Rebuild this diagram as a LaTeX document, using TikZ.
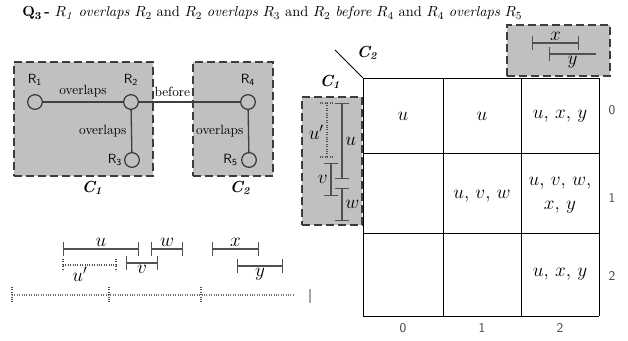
\documentclass[tikz,border=0pt]{standalone}
\usepackage{amsmath,amssymb}
\usepackage{tikz}
\usetikzlibrary{arrows.meta, positioning, fit}

\definecolor{boxgray}{RGB}{192,192,192}
\definecolor{edgegray}{RGB}{60,60,60}
\definecolor{ivgray}{RGB}{80,80,80}

\newcommand{\Cname}[1]{{\large\bfseries\itshape C\textsubscript{#1}}}
\newcommand{\Rname}[1]{{\sffamily R$_{\mathsf{#1}}$}}

\begin{document}
\begin{tikzpicture}[
  x=0.75pt, y=-0.75pt,
  cbox/.style={draw=edgegray, fill=boxgray, line width=1.5pt,
               dash pattern=on 6pt off 3pt, inner sep=0pt},
  rel/.style={circle, draw=black!80, line width=0.9pt, minimum size=11pt, inner sep=0pt},
  rlbl/.style={font=\sffamily},
  link/.style={draw=black!75, line width=1pt},
  ival/.style={{Bar[width=10pt]}-{Bar[width=10pt]}, draw=ivgray, line width=1pt},
  dival/.style={draw=ivgray, line width=0.8pt, densely dotted},
  ilbl/.style={font=\Large},
  cell/.style={font=\Large},
  idx/.style={font=\sffamily, text=black!75},
  gridline/.style={draw=black, line width=0.6pt}
]
  \useasboundingbox (0,0) rectangle (628,341);

  % title
  \node[anchor=base west, inner sep=0pt, font=\fontsize{10.8}{13}\selectfont] (title) at (22,17)
    {$\mathbf{Q_3}$\,\textbf{-} $R_{\mathit{1}}$ \textit{overlaps} $R_2$ and $R_2$ \textit{overlaps} $R_3$
     and $R_2$ \textit{before} $R_4$ and $R_4$ \textit{overlaps} $R_5$};

  % constraint graph
  \node[cbox, fit={(14,62) (153,176)}] (boxA) {};
  \node[cbox, fit={(193,62) (273,176)}] (boxB) {};
  \node at (92,188) (nameA) {\Cname{1}};
  \node at (240,188) (nameB) {\Cname{2}};

  \node[rel, label={[rlbl, label distance=3pt]above:\Rname{1}}] (r1) at (35,102) {};
  \node[rel, label={[rlbl, label distance=3pt]above:\Rname{2}}] (r2) at (131,102) {};
  \node[rel, label={[rlbl, label distance=-2pt]left:\Rname{3}}] (r3) at (132,160) {};
  \node[rel, label={[rlbl, label distance=3pt]above:\Rname{4}}] (r4) at (248,102) {};
  \node[rel, label={[rlbl, label distance=-1pt]left:\Rname{5}}] (r5) at (249,160) {};

  \draw[link] (r1) -- node[above] {overlaps} (r2);
  \draw[link] (r2) -- node[left] {overlaps} (r3);
  \draw[link] (r2) -- node[pos=0.33, above] {before} (r4);
  \draw[link] (r4) -- node[left] {overlaps} (r5);

  % intervals on the line
  \draw[ival] (63,249) -- node[ilbl, above, inner sep=1pt] {$u$} (139,249);
  \draw[ival] (151,249) -- node[ilbl, above, inner sep=1pt] {$w$} (183,249);
  \draw[ival] (212,249) -- node[ilbl, above, inner sep=1pt] {$x$} (259,249);
  \draw[dival] (63,265) -- node[ilbl, below, pos=0.32, inner sep=1pt] {$u'$} (116,265);
  \draw[dival] (63,259) -- (63,271) (116,259) -- (116,271);
  \draw[ival] (126,263) -- node[ilbl, below, inner sep=1pt] {$v$} (158,263);
  \draw[ival] (237,266) -- node[ilbl, below, inner sep=1pt] {$y$} (283,266);

  % time axis
  \draw[dival, draw=black!55] (12,295) -- (293,295);
  \foreach \tx in {12,109,201}
    \draw[dival, draw=black!70] (\tx,287) -- (\tx,302);
  \draw[draw=black!35, line width=0.8pt] (310,289) -- (310,303);

  % grid of cells
  \node[cbox, fit={(302,97) (362,225)}] (boxU) {};
  \node[cbox, fit={(507,25) (610,76)}] (boxX) {};

  \foreach \gx in {363,443,521,599}
    \draw[gridline] (\gx,78) -- (\gx,316);
  \foreach \gy in {78,153,233,316}
    \draw[gridline] (363,\gy) -- (599,\gy);

  \coordinate (corner) at (363,78);
  \coordinate (diag) at (335,50);
  \draw[line width=0.7pt] (diag) -- (corner);
  \node at (367,53) (nameD) {\Cname{2}};
  \node at (330,82) (nameE) {\Cname{1}};

  % intervals in the side boxes
  \draw[ival] (342,103) -- node[ilbl, right, inner sep=2pt] {$u$} (342,179);
  \draw[dival] (327,103) -- node[ilbl, left, pos=0.55, inner sep=2pt] {$u'$} (327,157);
  \draw[dival] (320,103) -- (334,103) (320,157) -- (334,157);
  \draw[ival] (331,163) -- node[ilbl, left, inner sep=2pt] {$v$} (331,196);
  \draw[ival] (342,188) -- node[ilbl, right, inner sep=2pt] {$w$} (342,221);

  \draw[ival] (532,43) -- node[ilbl, above, inner sep=1pt] {$x$} (579,43);
  \draw[{Bar[width=10pt]}-, draw=ivgray, line width=1pt] (549,54) -- node[ilbl, below, inner sep=1pt] {$y$} (596,54);

  % cell contents
  \node[cell] (c00) at (403,116) {$u$};
  \node[cell] (c01) at (482,116) {$u$};
  \node[cell] (c02) at (560,116) {$u$, $x$, $y$};
  \node[cell] (c11) at (482,196) {$u$, $v$, $w$};
  \node[cell, align=center] (c12) at (560,195) {$u$, $v$, $w$,\\$x$, $y$};
  \node[cell] (c22) at (560,274) {$u$, $x$, $y$};

  % row and column indices
  \node[idx] (row0) at (612,110) {0};
  \node[idx] (row1) at (612,198) {1};
  \node[idx] (row2) at (612,276) {2};
  \node[idx] (col0) at (403,328) {0};
  \node[idx] (col1) at (482,328) {1};
  \node[idx] (col2) at (560,328) {2};
\end{tikzpicture}
\end{document}
